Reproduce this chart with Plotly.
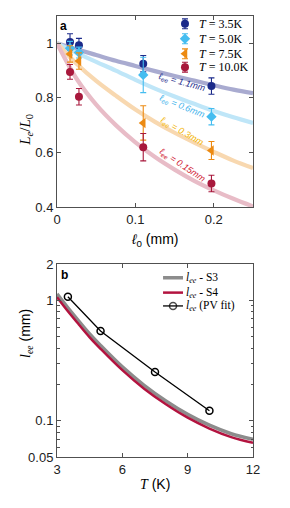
import plotly.graph_objects as go

# ---------------- Panel a data ----------------
l0_mm = [0.0166, 0.028, 0.11, 0.197]
temps_a = ["3.5", "5.0", "7.5", "10.0"]
ratio_35 = [1.005, 0.993, 0.925, 0.843]
err_35 = [0.03, 0.025, 0.03, 0.03]
ratio_50 = [0.982, 0.966, 0.884, 0.731]
err_50 = [0.025, 0.02, 0.065, 0.03]
ratio_75 = [0.961, 0.935, 0.708, 0.607]
err_75 = [0.03, 0.03, 0.063, 0.033]
ratio_100 = [0.895, 0.804, 0.619, 0.486]
err_100 = [0.027, 0.03, 0.05, 0.03]

fit_x = [0, 0.025, 0.05, 0.075, 0.1, 0.125, 0.15, 0.175, 0.2, 0.225, 0.25]
fit_11 = [1.0, 0.978, 0.957, 0.936, 0.917, 0.898, 0.880, 0.863, 0.846, 0.830, 0.817]
fit_06 = [1.0, 0.965, 0.932, 0.900, 0.866, 0.834, 0.805, 0.778, 0.752, 0.729, 0.708]
fit_03 = [1.0, 0.925, 0.862, 0.808, 0.757, 0.712, 0.672, 0.636, 0.602, 0.570, 0.543]
fit_015 = [1.0, 0.870, 0.775, 0.700, 0.637, 0.583, 0.537, 0.496, 0.461, 0.430, 0.402]
fit_labels = ["1.1", "0.6", "0.3", "0.15"]

# ---------------- Panel b data ----------------
T_curve = [3, 3.5, 4, 4.5, 5, 6, 7, 8, 9, 10, 11, 12]
lee_S3 = [1.13, 0.865, 0.672, 0.526, 0.422, 0.280, 0.197, 0.146, 0.113, 0.0918, 0.078, 0.070]
lee_S4 = [1.06, 0.81, 0.63, 0.493, 0.396, 0.263, 0.1845, 0.137, 0.106, 0.0861, 0.0731, 0.0655]
T_pv = [3.5, 5.0, 7.5, 10.0]
lee_pv = [1.07, 0.557, 0.254, 0.121]
legend_b = ["S3", "S4", "(PV fit)"]

x_ticks_a = [0, 0.1, 0.2]
y_ticks_a = [0.4, 0.6, 0.8, 1]
x_ticks_b = [3, 6, 9, 12]
y_ticks_b = [0.05, 0.1, 1, 2]
y_minor_b = [0.06, 0.07, 0.08, 0.09, 0.2, 0.3, 0.4, 0.5, 0.6, 0.7, 0.8, 0.9]

# ---------------- styles ----------------
cols = ["#1b2a8a", "#45bdf0", "#ec8a12", "#a8183c"]
fit_cols = ["#a9abd0", "#bfe6f8", "#f8d8b0", "#e8bcc7"]
txt_cols = ["#1b2a8a", "#3fb4ec", "#f2b400", "#d0142c"]
symbols = ["circle", "diamond", "triangle-left", "circle"]
sizes = [8, 8, 9, 8]
serif = "Liberation Serif, DejaVu Serif, serif"
sans = "Liberation Sans, Arial, sans-serif"
axcol = "#505050"
s3_col, s4_col = "#8c8c8c", "#b3133f"

fig = go.Figure()

for fy, fc in zip([fit_11, fit_06, fit_03, fit_015], fit_cols):
    fig.add_trace(go.Scatter(x=fit_x, y=fy, mode="lines", line=dict(color=fc, width=4.2, shape="spline"),
                             showlegend=False, hoverinfo="skip", xaxis="x", yaxis="y"))

series_a = list(zip([ratio_35, ratio_50, ratio_75, ratio_100], [err_35, err_50, err_75, err_100]))
for i, (ys, es) in enumerate(series_a):
    fig.add_trace(go.Scatter(
        x=l0_mm, y=ys, mode="markers", showlegend=False,
        marker=dict(color=cols[i], symbol=symbols[i], size=sizes[i]),
        error_y=dict(type="data", array=es, color=cols[i], thickness=1.1, width=3),
        name="T = " + temps_a[i] + "K", xaxis="x", yaxis="y"))

fig.add_trace(go.Scatter(x=T_curve, y=lee_S3, mode="lines", line=dict(color=s3_col, width=3.5, shape="spline"),
                         showlegend=False, name="S3", xaxis="x2", yaxis="y2"))
fig.add_trace(go.Scatter(x=T_curve, y=lee_S4, mode="lines", line=dict(color=s4_col, width=2.5, shape="spline"),
                         showlegend=False, name="S4", xaxis="x2", yaxis="y2"))
fig.add_trace(go.Scatter(x=T_pv, y=lee_pv, mode="lines+markers", line=dict(color="black", width=1.3),
                         marker=dict(symbol="circle-open", size=7, color="black", line=dict(width=1.5)),
                         showlegend=False, name="PV fit", xaxis="x2", yaxis="y2"))

# ---------------- hand-built compact legends (overlay axes in 0..1 units) ----------------
leg_rows_a = [0.959, 0.881, 0.802, 0.732]
for i in range(4):
    fig.add_trace(go.Scatter(x=[0.653], y=[leg_rows_a[i]], mode="markers", showlegend=False, hoverinfo="skip",
                             marker=dict(color=cols[i], symbol=symbols[i], size=sizes[i]),
                             error_y=dict(type="data", array=[0.026], color=cols[i], thickness=1.1, width=3),
                             xaxis="x3", yaxis="y3"))
leg_rows_b = [0.929, 0.852, 0.783]
fig.add_trace(go.Scatter(x=[0.541, 0.643], y=[leg_rows_b[0]] * 2, mode="lines", showlegend=False,
                         hoverinfo="skip", line=dict(color=s3_col, width=3.5), xaxis="x4", yaxis="y4"))
fig.add_trace(go.Scatter(x=[0.541, 0.643], y=[leg_rows_b[1]] * 2, mode="lines", showlegend=False,
                         hoverinfo="skip", line=dict(color=s4_col, width=2.5), xaxis="x4", yaxis="y4"))
fig.add_trace(go.Scatter(x=[0.541, 0.592, 0.643], y=[leg_rows_b[2]] * 3, mode="lines+markers", showlegend=False,
                         hoverinfo="skip", line=dict(color="black", width=1.3),
                         marker=dict(symbol="circle-open", size=[0, 7, 0], color="black", line=dict(width=1.5)),
                         xaxis="x4", yaxis="y4"))

axis_common = dict(showline=True, linecolor=axcol, linewidth=1, mirror="ticks", ticks="inside",
                   ticklen=4, tickcolor=axcol, showgrid=False, zeroline=False,
                   tickfont=dict(family=sans, size=13, color="#222"))
hidden = dict(visible=False, range=[0, 1], fixedrange=True)

# page body has an 8px margin, so the figure is 8px smaller than the window
fig.update_layout(
    width=282, height=500, plot_bgcolor="rgba(0,0,0,0)", paper_bgcolor="white",
    margin=dict(l=49, r=37, t=1, b=51), showlegend=False,
    xaxis=dict(domain=[0, 1], range=[0, 0.25], tickvals=x_ticks_a, ticktext=["0", "0.1", "0.2"],
               anchor="y", **axis_common),
    yaxis=dict(domain=[0.567, 1], range=[0.4, 1.1], tickvals=y_ticks_a, ticktext=["0.4", "0.6", "0.8", "1"],
               anchor="x", **axis_common),
    xaxis2=dict(domain=[0, 1], range=[3, 12], tickvals=x_ticks_b, anchor="y2", **axis_common),
    yaxis2=dict(domain=[0, 0.4375], type="log", range=[-1.30103, 0.30103], tickvals=y_ticks_b,
                ticktext=["0.05", "0.1", "1", "2"], anchor="x2",
                minor=dict(tickmode="array", tickvals=y_minor_b, ticks="inside", ticklen=2.5, tickcolor=axcol),
                **axis_common),
    xaxis3=dict(domain=[0, 1], anchor="y3", **hidden),
    yaxis3=dict(domain=[0.567, 1], anchor="x3", **hidden),
    xaxis4=dict(domain=[0, 1], anchor="y4", **hidden),
    yaxis4=dict(domain=[0, 0.4375], anchor="x4", **hidden),
)

ann = []
for i in range(4):
    ann.append(dict(x=0.712, y=leg_rows_a[i], xref="x3", yref="y3", xanchor="left", showarrow=False,
                    text="<i>T</i> = " + temps_a[i] + "K", font=dict(family=serif, size=12, color="black")))
for i in range(3):
    ann.append(dict(x=0.648, y=leg_rows_b[i], xref="x4", yref="y4", xanchor="left", showarrow=False,
                    text="<i>l<sub>ee</sub></i> " + ("- " if i < 2 else "") + legend_b[i],
                    font=dict(family=serif, size=11.5, color="black")))
# rotated fit labels
lab_pos = [(0.159, 0.855, 15), (0.159, 0.767, 22), (0.159, 0.676, 30), (0.160, 0.553, 34)]
for (x, y, a), t, c in zip(lab_pos, fit_labels, txt_cols):
    ann.append(dict(x=x, y=y, xref="x", yref="y", text="<i>ℓ<sub>ee</sub> = " + t + "mm</i>",
                    showarrow=False, textangle=a, font=dict(family=sans, size=9, color=c)))
# panel labels
ann.append(dict(x=0.005, y=0.998, xref="paper", yref="paper", text="<b>a</b>", showarrow=False,
                xanchor="left", yanchor="top", font=dict(family=sans, size=12, color="black")))
ann.append(dict(x=0.012, y=0.432, xref="paper", yref="paper", text="<b>b</b>", showarrow=False,
                xanchor="left", yanchor="top", font=dict(family=sans, size=12, color="black")))
# axis titles
ann.append(dict(x=-0.214, y=0.783, xref="paper", yref="paper", textangle=-90, showarrow=False,
                text="<i>L<sub>e</sub></i>/<i>L</i><sub>0</sub>", font=dict(family=serif, size=15, color="black")))
ann.append(dict(x=0.5, y=0.492, xref="paper", yref="paper", showarrow=False,
                text="<i>ℓ</i><sub>0</sub> (mm)", font=dict(family=sans, size=14, color="black")))
ann.append(dict(x=0.5, y=-0.085, xref="paper", yref="paper", showarrow=False,
                text="<span style=\"font-family:Liberation Serif\"><i>T</i></span> (K)",
                font=dict(family=sans, size=14, color="black")))
ann.append(dict(x=-0.214, y=0.219, xref="paper", yref="paper", textangle=-90, showarrow=False,
                text="<span style=\"font-family:Liberation Serif\"><i>l<sub>ee</sub></i></span> (mm)",
                font=dict(family=sans, size=14, color="black")))
fig.update_layout(annotations=ann)

fig.write_html("out.html")
